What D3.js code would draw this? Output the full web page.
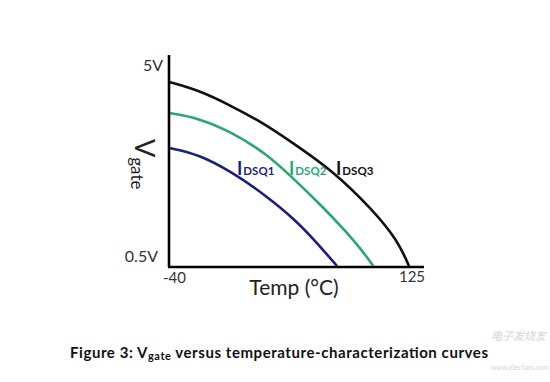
<!DOCTYPE html>
<html>
<head>
<meta charset="utf-8">
<script src="https://cdn.jsdelivr.net/npm/d3@7"></script>
<style>
  body { margin: 0; background: #fff; }
  svg { display: block; font-family: Lato, "Open Sans", sans-serif; }
</style>
</head>
<body>
<svg id="chart" width="550" height="382"></svg>
<script>
// Curvas Vgate x temperatura
const blueTemps  = [-40, -20, 3, 26, 47, 61, 75.5];
const blueVolts  = [3.17, 3.03, 2.63, 2.11, 1.54, 1.05, 0.5];
const greenTemps = [-40, -20, 3, 26, 43, 66, 89, 100.5];
const greenVolts = [3.96, 3.85, 3.53, 3.06, 2.56, 1.83, 1.02, 0.5];
const blackTemps = [-40, -20, 3, 26, 43, 73, 100, 117, 125];
const blackVolts = [4.66, 4.48, 4.12, 3.71, 3.33, 2.65, 1.77, 1.09, 0.5];

const seriesNames  = ["DSQ1", "DSQ2", "DSQ3"];
const seriesColors = ["#1b1f7a", "#2aa873", "#111111"];
const yTicks = [0.5, 5];
const yTickLabels = ["0.5V", "5V"];
const xTicks = [-40, 125];

const svg = d3.select("#chart");

const x = d3.scaleLinear().domain([-40, 125]).range([169, 409]);
const y = d3.scaleLinear().domain([0.5, 5]).range([266, 67]);

const series = [
    { name: seriesNames[0], color: seriesColors[0], pts: d3.zip(blueTemps, blueVolts) },
    { name: seriesNames[1], color: seriesColors[1], pts: d3.zip(greenTemps, greenVolts) },
    { name: seriesNames[2], color: seriesColors[2], pts: d3.zip(blackTemps, blackVolts) }
];

const line = d3.line()
    .x(d => x(d[0]))
    .y(d => y(d[1]))
    .curve(d3.curveBasis);

// curvas
svg.selectAll(".curve")
    .data(series)
    .enter()
    .append("path")
    .attr("class", "curve")
    .attr("d", d => line(d.pts))
    .attr("fill", "none")
    .attr("stroke", d => d.color)
    .attr("stroke-width", 2.6);

// eixos
svg.append("line")
    .attr("x1", 169).attr("x2", 169)
    .attr("y1", 55).attr("y2", 267)
    .attr("stroke", "#000").attr("stroke-width", 2.6);
svg.append("line")
    .attr("x1", 168).attr("x2", 424)
    .attr("y1", 267).attr("y2", 267)
    .attr("stroke", "#000").attr("stroke-width", 2.6);

// rótulos do eixo y
svg.selectAll(".ytick")
    .data(yTicks)
    .enter()
    .append("text")
    .attr("class", "ytick")
    .attr("x", (d, i) => i === 0 ? 158 : 163)
    .attr("y", (d, i) => i === 0 ? 262 : 71)
    .attr("text-anchor", "end")
    .attr("fill", "#333")
    .style("font-size", "16px")
    .text((d, i) => yTickLabels[i]);

// rótulos do eixo x
svg.selectAll(".xtick")
    .data(xTicks)
    .enter()
    .append("text")
    .attr("class", "xtick")
    .attr("x", (d, i) => i === 0 ? x(d) - 6 : x(d) + 3)
    .attr("y", (d, i) => i === 0 ? 283 : 282)
    .attr("text-anchor", (d, i) => i === 0 ? "start" : "middle")
    .attr("fill", "#333")
    .style("font-size", "15px")
    .text(d => d);

// título do eixo x
svg.append("text")
    .attr("x", 294)
    .attr("y", 295)
    .attr("text-anchor", "middle")
    .attr("fill", "#222")
    .style("font-size", "21px")
    .text("Temp (°C)");

// título do eixo y (Vgate, girado)
const yTitle = svg.append("text")
    .attr("transform", "translate(135,139) rotate(90)")
    .attr("fill", "#222");
yTitle.append("tspan").style("font-size", "27px").text("V");
yTitle.append("tspan").attr("dy", 4).style("font-size", "17px").text("gate");

// rótulos das curvas
const labelX = [237, 289, 336];
const labels = svg.selectAll(".lbl")
    .data(series)
    .enter()
    .append("text")
    .attr("class", "lbl")
    .attr("x", (d, i) => labelX[i])
    .attr("y", 175)
    .attr("fill", d => d.color)
    .style("font-weight", "bold");
labels.append("tspan").style("font-size", "18px").text("I");
labels.append("tspan").attr("dx", 1).style("font-size", "11.5px").text(d => d.name);

// legenda da figura
const caption = svg.append("text")
    .attr("x", 70)
    .attr("y", 358)
    .attr("fill", "#111")
    .attr("textLength", 418)
    .attr("lengthAdjust", "spacing")
    .style("font-weight", "bold")
    .style("font-size", "15px");
caption.append("tspan").text("Figure 3: V");
caption.append("tspan").attr("dy", 2).style("font-size", "11px").text("gate");
caption.append("tspan").attr("dy", -2).text(" versus temperature-characterization curves");

// marca d'água (deslocada para não cobrir a legenda)
svg.append("text")
    .attr("x", 491).attr("y", 340)
    .attr("fill", "#d4d4d4")
    .style("font-family", "'Noto Sans CJK SC'")
    .style("font-size", "11px")
    .style("font-style", "italic")
    .text("电子发烧友");
svg.append("text")
    .attr("x", 491).attr("y", 370)
    .attr("fill", "#d4d4d4")
    .style("font-size", "7px")
    .text("www.elecfans.com");
</script>
</body>
</html>
